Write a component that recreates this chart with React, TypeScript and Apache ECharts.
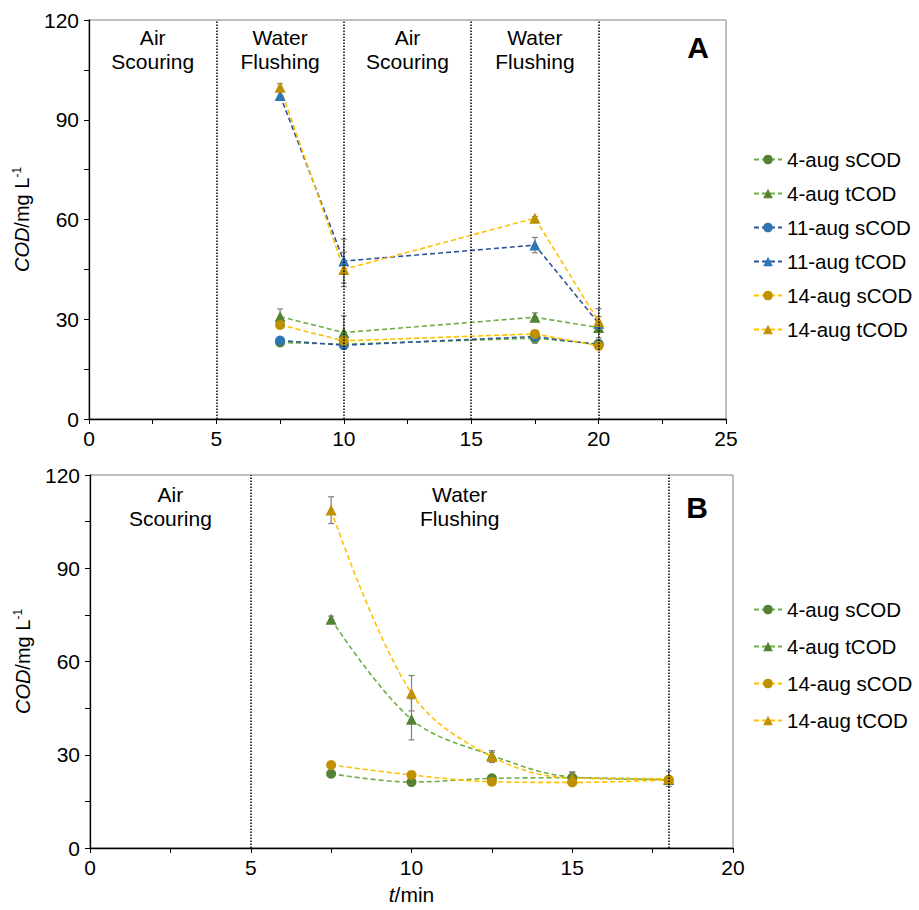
import React, { useEffect, useRef } from "react";
import * as echarts from "echarts";

const FONT = "'Liberation Sans', Arial, Helvetica, sans-serif";

// ---------- Panel A ----------
const xA = [7.5, 10, 17.5, 20];
const aug4sA = [23.0, 22.5, 24.3, 22.6];
const aug4tA = [30.8, 26.0, 30.6, 27.5];
const aug11sA = [23.6, 22.2, 24.8, 22.3];
const aug11tA = [97.3, 47.5, 52.3, 28.8];
const aug14sA = [28.3, 23.5, 25.6, 22.0];
const aug14tA = [99.8, 45.0, 60.4, 29.3];
const err4sA = [0.5, 0.5, 1.5, 0.5];
const err4tA = [2.3, 5.0, 1.3, 1.5];
const err11sA = [0.5, 0.5, 0.8, 0.5];
const err11tA = [1.5, 6.6, 2.3, 4.4];
const err14sA = [1.0, 1.0, 1.0, 1.0];
const err14tA = [1.0, 5.2, 0.5, 1.5];
const phaseLinesA = [5, 10, 15, 20];
const regionXA = [2.5, 7.5, 12.5, 17.5];
const regionLabelsA = ["Air\nScouring", "Water\nFlushing", "Air\nScouring", "Water\nFlushing"];
const regionYA = 111;

// ---------- Panel B ----------
const xB = [7.5, 10, 12.5, 15, 18];
const aug4sB = [23.9, 21.2, 22.4, 22.6, 21.9];
const aug4tB = [73.6, 41.4, 29.8, 22.8, 22.0];
const aug14sB = [26.7, 23.5, 21.3, 21.1, 21.9];
const aug14tB = [108.7, 49.8, 29.4, 22.5, 22.3];
const err4sB = [0.5, 0.5, 0.5, 0.5, 0.5];
const err4tB = [1.0, 6.6, 1.0, 1.5, 1.0];
const err14sB = [0.5, 0.5, 0.5, 0.5, 0.5];
const err14tB = [4.3, 5.7, 1.9, 2.0, 2.5];
const phaseLinesB = [5, 18];
const regionXB = [2.5, 11.5];
const regionLabelsB = ["Air\nScouring", "Water\nFlushing"];
const regionYB = 110;

const names = ["4-aug sCOD", "4-aug tCOD", "11-aug sCOD", "11-aug tCOD", "14-aug sCOD", "14-aug tCOD"];
const namesB = ["4-aug sCOD", "4-aug tCOD", "14-aug sCOD", "14-aug tCOD"];

const GREEN_LINE = "#70AD47";
const GREEN_MK = "#548235";
const BLUE_LINE = "#2F5597";
const BLUE_MK = "#2E75B6";
const GOLD_LINE = "#FFC000";
const GOLD_MK = "#BF9000";

function pairs(xs: number[], ys: number[]) {
  return xs.map((x, i) => [x, ys[i]]);
}
function errs(xs: number[], ys: number[], es: number[]) {
  return xs.map((x, i) => [x, ys[i] - es[i], ys[i] + es[i]]);
}

function errRender(params: any, api: any) {
  const x = api.value(0);
  const lo = api.coord([x, api.value(1)]);
  const hi = api.coord([x, api.value(2)]);
  const w = 3;
  const st = { stroke: "#808080", lineWidth: 1.2 };
  return {
    type: "group",
    children: [
      { type: "line", shape: { x1: lo[0], y1: lo[1], x2: hi[0], y2: hi[1] }, style: st },
      { type: "line", shape: { x1: lo[0] - w, y1: lo[1], x2: lo[0] + w, y2: lo[1] }, style: st },
      { type: "line", shape: { x1: hi[0] - w, y1: hi[1], x2: hi[0] + w, y2: hi[1] }, style: st },
    ],
  };
}

function textRender(labels: string[]) {
  return (params: any, api: any) => {
    const p = api.coord([api.value(0), api.value(1)]);
    return {
      type: "text",
      x: p[0],
      y: p[1],
      style: {
        text: labels[params.dataIndex],
        textAlign: "center",
        textVerticalAlign: "middle",
        fontSize: 21,
        lineHeight: 24,
        fontFamily: FONT,
        fill: "#000",
      },
    };
  };
}

function lineSeries(
  name: string,
  data: number[][],
  gi: number,
  lineColor: string,
  mkColor: string,
  symbol: string,
  smooth: boolean
) {
  return {
    type: "line",
    name,
    xAxisIndex: gi,
    yAxisIndex: gi,
    data,
    smooth: smooth ? 0.35 : false,
    symbol,
    symbolSize: symbol === "triangle" ? 11 : 10,
    lineStyle: { color: lineColor, width: 1.6, type: [5, 3] },
    itemStyle: { color: mkColor },
    z: 3,
  };
}

function phaseMark(lines: number[]) {
  return {
    silent: true,
    symbol: ["none", "none"],
    label: { show: false },
    lineStyle: { type: "dotted", color: "#000", width: 1.5 },
    data: lines.map((v) => ({ xAxis: v })),
  };
}

function xAxisCfg(gi: number, max: number, withName: boolean) {
  const c: any = {
    gridIndex: gi,
    type: "value",
    min: 0,
    max,
    interval: 5,
    axisLine: { show: true, onZero: false, lineStyle: { color: "#000", width: 1.3 } },
    axisTick: { show: true, length: 5, lineStyle: { color: "#000" } },
    minorTick: { show: true, splitNumber: 2, length: 5, lineStyle: { color: "#000" } },
    splitLine: { show: false },
    minorSplitLine: { show: false },
    axisLabel: { fontSize: 21, color: "#000", margin: 9, fontFamily: FONT },
  };
  if (withName) {
    c.name = "{i|t}/min";
    c.nameLocation = "middle";
    c.nameGap = 36;
    c.nameTextStyle = {
      fontSize: 21,
      color: "#000",
      fontFamily: FONT,
      rich: { i: { fontStyle: "italic", fontSize: 21, fontFamily: FONT, color: "#000" } },
    };
  }
  return c;
}

function yAxisCfg(gi: number) {
  return {
    gridIndex: gi,
    type: "value",
    min: 0,
    max: 120,
    interval: 30,
    axisLine: { show: true, onZero: false, lineStyle: { color: "#000", width: 1.3 } },
    axisTick: { show: true, length: 5, lineStyle: { color: "#000" } },
    minorTick: { show: true, splitNumber: 2, length: 5, lineStyle: { color: "#000" } },
    splitLine: { show: false },
    minorSplitLine: { show: false },
    axisLabel: { fontSize: 21, color: "#000", margin: 10, fontFamily: FONT },
    name: "{i|COD}{n|/mg L}{s|-1}",
    nameLocation: "middle",
    nameRotate: 90,
    nameGap: 56,
    nameTextStyle: {
      color: "#000",
      fontFamily: FONT,
      fontSize: 20,
      rich: {
        i: { fontStyle: "italic", fontSize: 20, lineHeight: 22, fontFamily: FONT, color: "#000" },
        n: { fontSize: 20, lineHeight: 22, fontFamily: FONT, color: "#000" },
        s: { fontSize: 12, lineHeight: 12, verticalAlign: "top", fontFamily: FONT, color: "#000" },
      },
    },
  };
}

export default function App() {
  const ref = useRef<HTMLDivElement>(null);
  useEffect(() => {
    if (!ref.current) return;
    const chart = echarts.init(ref.current, undefined, { renderer: "svg" });

    const sA = [
      lineSeries(names[0], pairs(xA, aug4sA), 0, GREEN_LINE, GREEN_MK, "circle", false),
      lineSeries(names[1], pairs(xA, aug4tA), 0, GREEN_LINE, GREEN_MK, "triangle", false),
      lineSeries(names[2], pairs(xA, aug11sA), 0, BLUE_LINE, BLUE_MK, "circle", false),
      lineSeries(names[3], pairs(xA, aug11tA), 0, BLUE_LINE, BLUE_MK, "triangle", false),
      lineSeries(names[4], pairs(xA, aug14sA), 0, GOLD_LINE, GOLD_MK, "circle", false),
      lineSeries(names[5], pairs(xA, aug14tA), 0, GOLD_LINE, GOLD_MK, "triangle", false),
    ];
    (sA[0] as any).markLine = phaseMark(phaseLinesA);

    const sB = [
      lineSeries(namesB[0], pairs(xB, aug4sB), 1, GREEN_LINE, GREEN_MK, "circle", true),
      lineSeries(namesB[1], pairs(xB, aug4tB), 1, GREEN_LINE, GREEN_MK, "triangle", true),
      lineSeries(namesB[2], pairs(xB, aug14sB), 1, GOLD_LINE, GOLD_MK, "circle", true),
      lineSeries(namesB[3], pairs(xB, aug14tB), 1, GOLD_LINE, GOLD_MK, "triangle", true),
    ];
    (sB[0] as any).markLine = phaseMark(phaseLinesB);

    const errA = [
      ...errs(xA, aug4sA, err4sA),
      ...errs(xA, aug4tA, err4tA),
      ...errs(xA, aug11sA, err11sA),
      ...errs(xA, aug11tA, err11tA),
      ...errs(xA, aug14sA, err14sA),
      ...errs(xA, aug14tA, err14tA),
    ];
    const errB = [
      ...errs(xB, aug4sB, err4sB),
      ...errs(xB, aug4tB, err4tB),
      ...errs(xB, aug14sB, err14sB),
      ...errs(xB, aug14tB, err14tB),
    ];

    const legendText = { fontSize: 20.5, color: "#000", fontFamily: FONT, lineHeight: 20 };

    const option: any = {
      animation: false,
      backgroundColor: "#fff",
      textStyle: { fontFamily: FONT },
      grid: [
        { left: 89, top: 20, width: 637, height: 399, show: true, borderColor: "#808080", borderWidth: 1, backgroundColor: "transparent" },
        { left: 90, top: 475, width: 643, height: 373, show: true, borderColor: "#808080", borderWidth: 1, backgroundColor: "transparent" },
      ],
      xAxis: [xAxisCfg(0, 25, false), xAxisCfg(1, 20, true)],
      yAxis: [yAxisCfg(0), yAxisCfg(1)],
      legend: [
        {
          data: names,
          orient: "vertical",
          left: 748,
          top: 144,
          itemWidth: 28,
          itemHeight: 12,
          itemGap: 13,
          selectedMode: false,
          textStyle: legendText,
        },
        {
          data: namesB,
          orient: "vertical",
          left: 748,
          top: 594,
          itemWidth: 28,
          itemHeight: 12,
          itemGap: 16,
          selectedMode: false,
          textStyle: legendText,
        },
      ],
      graphic: [
        { type: "text", x: 698, y: 47, style: { text: "A", font: `bold 30px ${FONT}`, fill: "#000", textAlign: "center", textVerticalAlign: "middle" } },
        { type: "text", x: 697, y: 507, style: { text: "B", font: `bold 30px ${FONT}`, fill: "#000", textAlign: "center", textVerticalAlign: "middle" } },
      ],
      series: [
        {
          type: "custom",
          name: "errA",
          xAxisIndex: 0,
          yAxisIndex: 0,
          data: errA,
          encode: { x: 0, y: [1, 2] },
          renderItem: errRender,
          silent: true,
          z: 2,
        },
        {
          type: "custom",
          name: "errB",
          xAxisIndex: 1,
          yAxisIndex: 1,
          data: errB,
          encode: { x: 0, y: [1, 2] },
          renderItem: errRender,
          silent: true,
          z: 2,
        },
        {
          type: "custom",
          name: "regionsA",
          xAxisIndex: 0,
          yAxisIndex: 0,
          data: regionXA.map((x) => [x, regionYA]),
          encode: { x: 0, y: 1 },
          renderItem: textRender(regionLabelsA),
          silent: true,
          z: 4,
        },
        {
          type: "custom",
          name: "regionsB",
          xAxisIndex: 1,
          yAxisIndex: 1,
          data: regionXB.map((x) => [x, regionYB]),
          encode: { x: 0, y: 1 },
          renderItem: textRender(regionLabelsB),
          silent: true,
          z: 4,
        },
        ...sA,
        ...sB,
      ],
    };
    chart.setOption(option);
    return () => chart.dispose();
  }, []);

  return (
    <div
      ref={ref}
      style={{ position: "fixed", left: 0, top: 0, width: 919, height: 910, background: "#fff" }}
    />
  );
}
